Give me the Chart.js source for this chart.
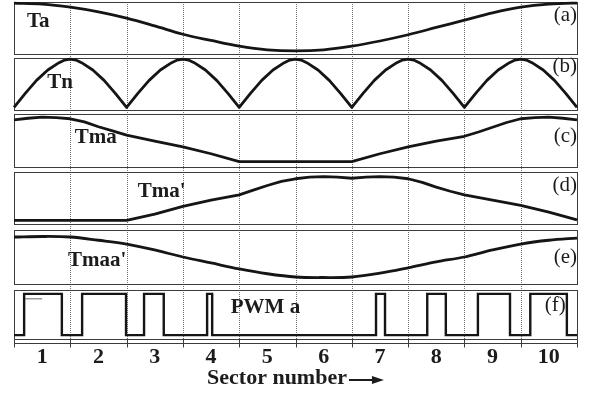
<!DOCTYPE html>
<html>
<head>
<meta charset="utf-8">
<script src="https://cdn.jsdelivr.net/npm/chart.js@4.4.1/dist/chart.umd.min.js"></script>
<style>
  html, body { margin: 0; padding: 0; background: #fff; }
  canvas { display: block; }
</style>
</head>
<body>
<canvas id="chart" width="599" height="396"></canvas>
<script>
// ---- Sector axis ----
const sectorLabels  = ['1', '2', '3', '4', '5', '6', '7', '8', '9', '10'];
const sectorCenters = [0.5, 1.5, 2.5, 3.5, 4.5, 5.5, 6.5, 7.5, 8.5, 9.5];
const sectorBounds  = [0, 1, 2, 3, 4, 5, 6, 7, 8, 9, 10];

// ---- (a) Ta and (e) Tmaa' : sampled in sector units, values in panel units (0..1) ----
const smoothX = [0, 0.5, 1, 1.5, 2, 2.5, 3, 3.5, 4, 4.5, 5, 5.5, 6, 6.5, 7, 7.5, 8, 8.5, 9, 9.5, 10, 10.27];
const ta      = [0.98, 0.96, 0.90, 0.81, 0.69, 0.54, 0.38, 0.26, 0.15, 0.08, 0.06, 0.08, 0.15, 0.25, 0.37, 0.51, 0.65, 0.79, 0.90, 0.96, 0.98, 0.98];
const tmaa    = [0.87, 0.88, 0.87, 0.81, 0.74, 0.63, 0.50, 0.39, 0.28, 0.19, 0.13, 0.12, 0.13, 0.20, 0.30, 0.41, 0.50, 0.63, 0.74, 0.81, 0.85, 0.87];

// ---- (b) Tn ----
const tnX = [0, 0.2, 0.4, 0.6, 0.8, 0.9, 1, 1.1, 1.2, 1.4, 1.6, 1.8,
             2, 2.2, 2.4, 2.6, 2.8, 2.9, 3, 3.1, 3.2, 3.4, 3.6, 3.8,
             4, 4.2, 4.4, 4.6, 4.8, 4.9, 5, 5.1, 5.2, 5.4, 5.6, 5.8,
             6, 6.2, 6.4, 6.6, 6.8, 6.9, 7, 7.1, 7.2, 7.4, 7.6, 7.8,
             8, 8.2, 8.4, 8.6, 8.8, 8.9, 9, 9.1, 9.2, 9.4, 9.6, 9.8, 10];
const tn  = [0.05, 0.32, 0.57, 0.77, 0.91, 0.96, 0.98, 0.96, 0.91, 0.77, 0.57, 0.32,
             0.05, 0.32, 0.57, 0.77, 0.91, 0.96, 0.98, 0.96, 0.91, 0.77, 0.57, 0.32,
             0.05, 0.32, 0.57, 0.77, 0.91, 0.96, 0.98, 0.96, 0.91, 0.77, 0.57, 0.32,
             0.05, 0.32, 0.57, 0.77, 0.91, 0.96, 0.98, 0.96, 0.91, 0.77, 0.57, 0.32,
             0.05, 0.32, 0.57, 0.77, 0.91, 0.96, 0.98, 0.96, 0.91, 0.77, 0.57, 0.32, 0.05];

// ---- (c) Tma ----
const tmaX = [0, 0.25, 0.5, 0.75, 1, 1.25, 1.5, 1.75, 2, 2.5, 3, 3.5, 4, 5, 6, 6.5, 7, 7.5, 8, 8.25, 8.5, 8.75, 9, 9.25, 9.5, 9.75, 10, 10.27];
const tma  = [0.89, 0.92, 0.94, 0.93, 0.91, 0.85, 0.76, 0.68, 0.60, 0.49, 0.38, 0.25, 0.10, 0.10, 0.10, 0.25, 0.38, 0.49, 0.58, 0.66, 0.75, 0.84, 0.91, 0.93, 0.94, 0.92, 0.89, 0.92];

// ---- (d) Tma' ----
const tmapX = [0, 1, 2, 2.5, 3, 3.5, 4, 4.25, 4.5, 4.75, 5, 5.25, 5.5, 5.75, 6, 6.25, 6.5, 6.75, 7, 7.25, 7.5, 7.75, 8, 8.5, 9, 9.5, 10, 10.27];
const tmap  = [0.07, 0.07, 0.07, 0.19, 0.34, 0.46, 0.56, 0.65, 0.74, 0.82, 0.87, 0.90, 0.91, 0.90, 0.88, 0.90, 0.91, 0.90, 0.87, 0.80, 0.71, 0.63, 0.56, 0.46, 0.36, 0.23, 0.08, 0.08];

// ---- (f) PWM a : switching instants (sectors) and state after each instant ----
const pwmEdges = [0, 0.18, 0.85, 1.21, 1.99, 2.31, 2.66, 3.43, 3.52, 6.43, 6.59, 7.34, 7.67, 8.24, 8.81, 9.17, 9.82, 10];
const pwmState = [0, 1, 0, 1, 0, 1, 0, 1, 0, 1, 0, 1, 0, 1, 0, 1, 0, 0];
const pwmLevels = [0.08, 0.92];
const pwmMarkX = [0.2, 0.5];
const pwmMark  = [0.82, 0.82];

// ---- Panel captions ----
const panelNames = ['Ta', 'Tn', 'Tma', "Tma'", "Tmaa'", 'PWM a'];
const panelTags  = ['(a)', '(b)', '(c)', '(d)', '(e)', '(f)'];

// ---- Layout of the stacked panels (pixel rows inside the plot area) ----
const PLOT_TOP = 2, PLOT_BOTTOM = 343;
const panels = [
  { id: 'ya', top: 2,   bottom: 54,  nameAt: [0.23, 0.62], tagAt: [10,  0.75] },
  { id: 'yb', top: 58,  bottom: 110, nameAt: [0.59, 0.52], tagAt: [10,  0.83] },
  { id: 'yc', top: 114, bottom: 167, nameAt: [1.08, 0.55], tagAt: [10,  0.57] },
  { id: 'yd', top: 172, bottom: 224, nameAt: [2.20, 0.62], tagAt: [10,  0.75] },
  { id: 'ye', top: 230, bottom: 284, nameAt: [0.96, 0.44], tagAt: [10,  0.50] },
  { id: 'yf', top: 290, bottom: 339, nameAt: [3.85, 0.65], tagAt: [9.8, 0.69] }
];

function bandScale(p) {
  const H = PLOT_BOTTOM - PLOT_TOP;
  const span = H / (p.bottom - p.top);
  const min = -(PLOT_BOTTOM - p.bottom) / (p.bottom - p.top);
  return { type: 'linear', display: false, min: min, max: min + span };
}

const pts = (xs, ys) => xs.map((x, i) => ({ x: x, y: ys[i] }));

const INK = '#151515';
const SERIF = "'Liberation Serif', 'DejaVu Serif', serif";

function curve(data, axis, extra) {
  return Object.assign({
    data: data, yAxisID: axis, borderColor: INK, borderWidth: 2.8,
    pointRadius: 0, tension: 0, fill: false, clip: false,
    borderJoinStyle: 'round', borderCapStyle: 'butt'
  }, extra || {});
}

const decor = {
  id: 'decor',
  beforeDatasetsDraw(chart) {
    const { ctx, chartArea, scales } = chart;
    const xs = scales.x;
    ctx.save();
    // dotted sector boundaries
    ctx.strokeStyle = '#707070';
    ctx.lineWidth = 1;
    ctx.setLineDash([1, 1]);
    sectorBounds.slice(1, -1).forEach(b => {
      const px = Math.round(xs.getPixelForValue(b)) + 0.5;
      ctx.beginPath();
      ctx.moveTo(px, chartArea.top);
      ctx.lineTo(px, chartArea.bottom);
      ctx.stroke();
    });
    ctx.setLineDash([]);
    // panel frames
    const x0 = Math.round(xs.getPixelForValue(0)) + 0.5;
    const x1 = Math.round(xs.getPixelForValue(10)) + 0.5;
    ctx.strokeStyle = '#3c3c3c';
    panels.forEach(p => {
      const ys = scales[p.id];
      const t = Math.round(ys.getPixelForValue(1)) + 0.5;
      const b = Math.round(ys.getPixelForValue(0)) + 0.5;
      ctx.strokeRect(x0, t, x1 - x0, b - t);
    });
    // base line with sector tick marks
    const yb = Math.round(chartArea.bottom) + 0.5;
    ctx.beginPath();
    ctx.moveTo(x0, yb);
    ctx.lineTo(x1, yb);
    ctx.stroke();
    sectorBounds.forEach(b => {
      const px = Math.round(xs.getPixelForValue(b)) + 0.5;
      ctx.beginPath();
      ctx.moveTo(px, yb - 5);
      ctx.lineTo(px, yb + 4);
      ctx.stroke();
    });
    ctx.restore();
  },
  afterDatasetsDraw(chart) {
    const { ctx, chartArea, scales } = chart;
    const xs = scales.x;
    ctx.save();
    ctx.fillStyle = '#1c1c1c';
    ctx.textBaseline = 'middle';
    panels.forEach((p, i) => {
      const ys = scales[p.id];
      ctx.font = 'bold 21px ' + SERIF;
      ctx.textAlign = 'left';
      ctx.fillText(panelNames[i], xs.getPixelForValue(p.nameAt[0]), ys.getPixelForValue(p.nameAt[1]));
      ctx.font = '21px ' + SERIF;
      ctx.textAlign = 'right';
      ctx.fillText(panelTags[i], xs.getPixelForValue(p.tagAt[0]), ys.getPixelForValue(p.tagAt[1]));
    });
    // axis title with arrow
    const title = 'Sector number';
    ctx.font = 'bold 22px ' + SERIF;
    const tw = ctx.measureText(title).width;
    const arrowLen = 35, gap = 2;
    const cx = (xs.getPixelForValue(0) + xs.getPixelForValue(10)) / 2;
    const sx = cx - (tw + gap + arrowLen) / 2;
    const ty = chartArea.bottom + 35;
    ctx.textAlign = 'left';
    ctx.fillText(title, sx, ty);
    const ax0 = sx + tw + gap, ax1 = ax0 + arrowLen, ay = ty + 2;
    ctx.strokeStyle = '#1c1c1c';
    ctx.lineWidth = 2;
    ctx.beginPath();
    ctx.moveTo(ax0, ay);
    ctx.lineTo(ax1 - 9, ay);
    ctx.stroke();
    ctx.beginPath();
    ctx.moveTo(ax1, ay);
    ctx.lineTo(ax1 - 12, ay - 4);
    ctx.lineTo(ax1 - 12, ay + 4);
    ctx.closePath();
    ctx.fill();
    ctx.restore();
  }
};

const scales = {
  x: {
    type: 'linear', min: 0, max: 10,
    grid: { display: false, drawTicks: false }, border: { display: false },
    afterBuildTicks: s => { s.ticks = sectorCenters.map(v => ({ value: v })); },
    ticks: {
      autoSkip: false, maxRotation: 0, padding: 3, color: '#1c1c1c',
      font: { family: SERIF, size: 22, weight: 'bold', lineHeight: 1 },
      callback: (v, i) => sectorLabels[i]
    }
  }
};
panels.forEach(p => { scales[p.id] = bandScale(p); });

new Chart(document.getElementById('chart'), {
  type: 'line',
  data: {
    datasets: [
      curve(pts(smoothX, ta), 'ya', { tension: 0.35 }),
      curve(pts(tnX, tn), 'yb'),
      curve(pts(tmaX, tma), 'yc'),
      curve(pts(tmapX, tmap), 'yd'),
      curve(pts(smoothX, tmaa), 'ye', { tension: 0.35 }),
      curve(pwmEdges.map((x, i) => ({ x: x, y: pwmLevels[pwmState[i]] })), 'yf', { stepped: 'before', borderWidth: 2.4, borderJoinStyle: 'miter' }),
      curve(pts(pwmMarkX, pwmMark), 'yf', { borderWidth: 1, borderColor: '#666' })
    ]
  },
  options: {
    responsive: false,
    animation: false,
    devicePixelRatio: 1,
    layout: { padding: { top: 2, left: 14, right: 22, bottom: 25 } },
    plugins: { legend: { display: false }, tooltip: { enabled: false } },
    scales: scales
  },
  plugins: [decor]
});
</script>
</body>
</html>
